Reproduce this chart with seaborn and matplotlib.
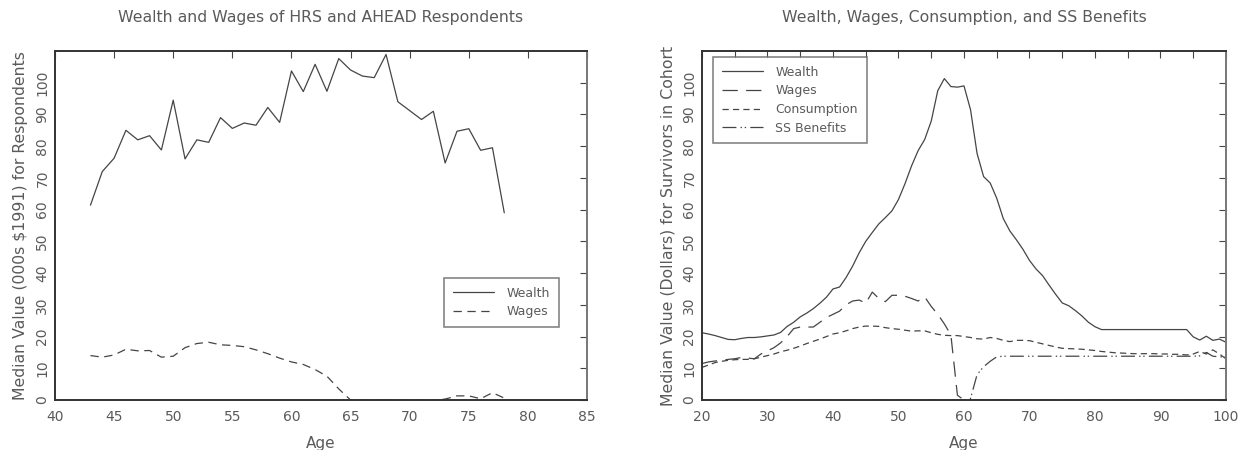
import seaborn as sns
import matplotlib.pyplot as plt
import numpy as np

# --- left panel: HRS / AHEAD respondents (000s $1991) ---
ages_left = list(range(43, 79))
wealth_left = [61.4, 72.0, 76.2, 85.0, 82.0, 83.3, 78.8, 94.5, 76.0, 82.0,
               81.2, 89.0, 85.6, 87.3, 86.6, 92.2, 87.5, 103.7, 97.2, 105.8,
               97.3, 107.6, 104.0, 102.1, 101.6, 108.9, 94.0, 91.2, 88.4, 91.0,
               74.7, 84.7, 85.5, 78.7, 79.5, 59.0]
wages_left = [14.0, 13.5, 14.2, 16.0, 15.5, 15.6, 13.5, 13.8, 16.5, 17.8,
              18.2, 17.4, 17.2, 16.8, 15.8, 14.6, 13.2, 12.0, 11.2, 9.6,
              7.5, 3.5, 0.0, 0.0, 0.0, 0.0, 0.0, 0.0, 0.0, 0.0,
              0.3, 1.3, 1.3, 0.4, 2.3, 0.6]

# --- right panel: survivors in cohort ---
ages_right = list(range(20, 101))
wealth_right = [21.2, 20.8, 20.3, 19.7, 19.1, 19.0, 19.4, 19.7, 19.7, 19.9,
                20.2, 20.5, 21.3, 23.2, 24.5, 26.2, 27.4, 28.8, 30.5, 32.4,
                35.0, 35.6, 38.6, 42.2, 46.4, 50.0, 52.8, 55.5, 57.5, 59.6,
                63.2, 68.2, 73.8, 78.6, 82.1, 87.9, 97.5, 101.3, 98.8, 98.6,
                99.0, 91.5, 77.7, 70.4, 68.4, 63.6, 57.2, 53.3, 50.5, 47.5,
                44.0, 41.3, 39.2, 36.2, 33.3, 30.6, 29.7, 28.2, 26.5, 24.5,
                23.1, 22.2, 22.2, 22.2, 22.2, 22.2, 22.2, 22.2, 22.2, 22.2,
                22.2, 22.2, 22.2, 22.2, 22.2, 19.9, 18.9, 20.1, 18.8, 19.2,
                18.2]
wages_right = [11.5, 12.0, 12.3, 12.5, 12.8, 13.0, 13.4, 13.2, 13.0, 14.5,
               15.5, 16.5, 18.0, 20.0, 22.5, 23.0, 23.0, 23.0, 24.5, 26.0,
               27.0, 28.0, 30.0, 31.2, 31.5, 30.5, 34.0, 32.0, 31.0, 33.0,
               33.0, 32.7, 32.0, 31.2, 32.5, 29.5, 27.0, 24.0, 20.5, 1.5,
               0.0] + [0.0] * 40
consumption_right = [10.3, 11.0, 11.8, 12.2, 12.5, 12.7, 12.8, 12.8, 13.0, 13.5,
                     14.0, 14.5, 15.2, 15.7, 16.3, 17.0, 17.8, 18.5, 19.2, 20.0,
                     20.8, 21.2, 21.8, 22.5, 23.0, 23.3, 23.3, 23.2, 22.8, 22.5,
                     22.3, 22.0, 21.7, 21.8, 21.8, 21.2, 20.7, 20.4, 20.3, 20.3,
                     20.0, 19.7, 19.3, 19.2, 19.7, 19.4, 18.8, 18.4, 18.8, 18.8,
                     18.7, 18.2, 17.7, 17.2, 16.7, 16.3, 16.2, 16.1, 16.0, 15.8,
                     15.6, 15.3, 15.1, 14.9, 14.8, 14.7, 14.6, 14.6, 14.6, 14.6,
                     14.5, 14.5, 14.4, 14.4, 14.2, 14.5, 15.3, 14.5, 15.8, 14.5,
                     13.0]
ss_right = [0.0] * 41 + [0.5, 8.0, 10.5, 12.2, 13.6] + [13.8] * 29 + \
           [13.8, 13.9, 15.0, 13.8, 13.6, 13.6]

title_left = "Wealth and Wages of HRS and AHEAD Respondents"
title_right = "Wealth, Wages, Consumption, and SS Benefits"
ylabel_left = "Median Value (000s $1991) for Respondents"
ylabel_right = "Median Value (Dollars) for Survivors in Cohort"

sns.set_style("white")
plt.rcParams["font.family"] = ["DejaVu Sans"]
plt.rcParams["lines.scale_dashes"] = False

txt = "#5a5a5a"
ink = "#454545"

fig = plt.figure(figsize=(12.44, 4.5), dpi=100)
ax1 = fig.add_axes([0.0442, 0.1111, 0.4277, 0.7756])
ax2 = fig.add_axes([0.5643, 0.1111, 0.4212, 0.7756])

sns.lineplot(x=ages_left, y=wealth_left, ax=ax1, color=ink, lw=0.9,
             label="Wealth")
sns.lineplot(x=ages_left, y=wages_left, ax=ax1, color=ink, lw=0.9,
             label="Wages", linestyle=(0, (6, 4)))

sns.lineplot(x=ages_right, y=wealth_right, ax=ax2, color=ink, lw=0.9,
             label="Wealth")
sns.lineplot(x=ages_right, y=wages_right, ax=ax2, color=ink, lw=0.9,
             label="Wages", linestyle=(0, (11, 6)))
sns.lineplot(x=ages_right, y=consumption_right, ax=ax2, color=ink, lw=0.9,
             label="Consumption", linestyle=(0, (4.5, 3)))
sns.lineplot(x=ages_right, y=ss_right, ax=ax2, color=ink, lw=0.9,
             label="SS Benefits", linestyle=(0, (10, 3, 1, 2, 1, 3)))

for ax, title, ylab in [(ax1, title_left, ylabel_left),
                        (ax2, title_right, ylabel_right)]:
    ax.set_ylim(0, 110)
    ax.set_yticks(np.arange(0, 101, 10))
    ax.set_title(title, color=txt, fontsize=11.3, pad=21)
    ax.set_xlabel("Age", color=txt, fontsize=11, labelpad=9)
    ax.set_ylabel(ylab, color=txt, fontsize=11.3, labelpad=5)
    ax.tick_params(direction="in", top=True, right=True, length=5,
                   width=0.8, colors=ink, labelcolor=txt, labelsize=10)
    ax.tick_params(axis="x", pad=7)
    ax.tick_params(axis="y", pad=4)
    for lab in ax.get_yticklabels():
        lab.set_rotation(90)
        lab.set_va("center")
    for side in ["left", "bottom", "top"]:
        ax.spines[side].set_color("#333333")
        ax.spines[side].set_linewidth(1.4)
    ax.spines["right"].set_color("#777777")
    ax.spines["right"].set_linewidth(1.4)

ax1.set_xlim(40, 85)
ax1.set_xticks(np.arange(40, 86, 5))
ax2.set_xlim(20, 100)
ax2.set_xticks(np.arange(20, 101, 10))
ax2.set_xticks(np.arange(25, 100, 10), minor=True)
ax2.tick_params(which="minor", direction="in", top=True, length=5,
                width=0.8, colors=ink)

leg1 = ax1.legend(loc="lower right", bbox_to_anchor=(0.947, 0.209),
                  borderaxespad=0, fontsize=9, handlelength=3.3,
                  frameon=True, fancybox=False, borderpad=0.7,
                  labelspacing=0.45, handletextpad=1.0)
leg2 = ax2.legend(loc="upper left", bbox_to_anchor=(0.021, 0.983),
                  borderaxespad=0, fontsize=9, handlelength=3.3,
                  frameon=True, fancybox=False, borderpad=0.7,
                  labelspacing=0.45, handletextpad=1.0)
for leg in (leg1, leg2):
    leg.get_frame().set_edgecolor("#666666")
    leg.get_frame().set_linewidth(1.2)
    for t in leg.get_texts():
        t.set_color(txt)

fig.savefig("out.png", dpi=100)
